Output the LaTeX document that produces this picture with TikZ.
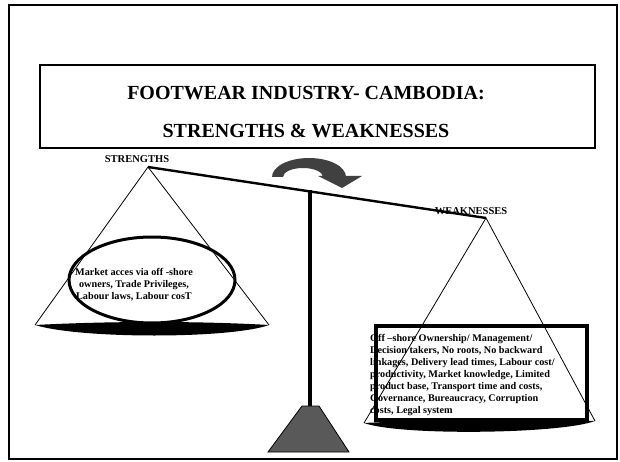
\documentclass[tikz,border=0pt]{standalone}
\usepackage{fontspec}
\setmainfont{Liberation Serif}
\definecolor{grisfonce}{HTML}{404040}
\definecolor{grissocle}{HTML}{595959}
\begin{document}
\begin{tikzpicture}[x=1pt,y=-1pt]
% Styles
\tikzstyle{cadre}=[line width=1.8pt]
\tikzstyle{fleau}=[line width=2.4pt]
\tikzstyle{corde}=[line width=0.8pt]
\tikzstyle{plateau}=[fill=black]
\tikzstyle{titre}=[font=\fontsize{20}{22}\selectfont\bfseries]
\tikzstyle{etiquette}=[font=\fontsize{10.5}{12}\selectfont\bfseries,inner sep=0pt]
\tikzstyle{liste}=[font=\fontsize{10.2}{12}\selectfont\bfseries,inner sep=0pt]
% Dimensions
\def\xG{148}\def\yG{167}
\def\xD{486}\def\yD{218}
\def\xP{310}
\useasboundingbox (0,0) rectangle (620,462);
% Encadrement
\draw[cadre] (9,5) rectangle (617,459);
\draw[cadre] (40,65) rectangle (595,148);
\node[titre] (t1) at (306,93) {FOOTWEAR INDUSTRY- CAMBODIA:};
\node[titre] (t2) at (306,131) {STRENGTHS \& WEAKNESSES};
% Points d'attache
\coordinate (apexG) at (\xG,\yG);
\coordinate (apexD) at (\xD,\yD);
\coordinate (g1) at (35,325);
\coordinate (g2) at (269,325);
\coordinate (d1) at (364,423);
\coordinate (d2) at (595,421);
% Etiquettes
\node[etiquette] (forces) at (137,159) {STRENGTHS};
\node[etiquette] (faibles) at (471,211) {WEAKNESSES};
% Fleche courbe
\fill[grisfonce] (272,177) arc[start angle=180,end angle=360,x radius=37,y radius=19]
  -- (323,177) arc[start angle=360,end angle=180,x radius=20,y radius=9] -- cycle;
\fill[grisfonce] (318,176) -- (362,176) -- (342,188) -- cycle;
% Socle et pied
\coordinate (pied) at (\xP,406);
\draw[line width=4pt] (\xP,190) -- (pied);
\draw[fill=grissocle,line width=0.8pt] (302,406) -- (319,406) -- (349,452) -- (268,452) -- cycle;
% Plateau gauche
\fill[plateau] (g1) .. controls (110,321) and (200,321) .. (g2)
  .. controls (230,339) and (80,339) .. (g1);
\draw[line width=3pt] (152,280) ellipse [x radius=83,y radius=43];
\node[liste,align=center] (texteG) at (134,285) {Market acces via off -shore\\owners, Trade Privileges,\\Labour laws, Labour cosT};
\draw[corde] (g1) -- (apexG) -- (g2);
% Plateau droit
\fill[plateau] (d1) .. controls (440,419) and (540,419) .. (d2)
  .. controls (560,434) and (400,436) .. (d1);
\node[liste,align=left,anchor=north west] (texteD) at (370,334) {Off --shore Ownership/ Management/\\Decision takers, No roots, No backward\\linkages, Delivery lead times, Labour cost/\\productivity, Market knowledge, Limited\\product base, Transport time and costs,\\Governance, Bureaucracy, Corruption\\costs, Legal system};
\draw[line width=4pt] (376,326) rectangle (587,420);
\draw[corde] (d1) -- (apexD) -- (d2);
% Fleau
\draw[fleau] (apexG) -- (apexD);
\end{tikzpicture}
\end{document}
